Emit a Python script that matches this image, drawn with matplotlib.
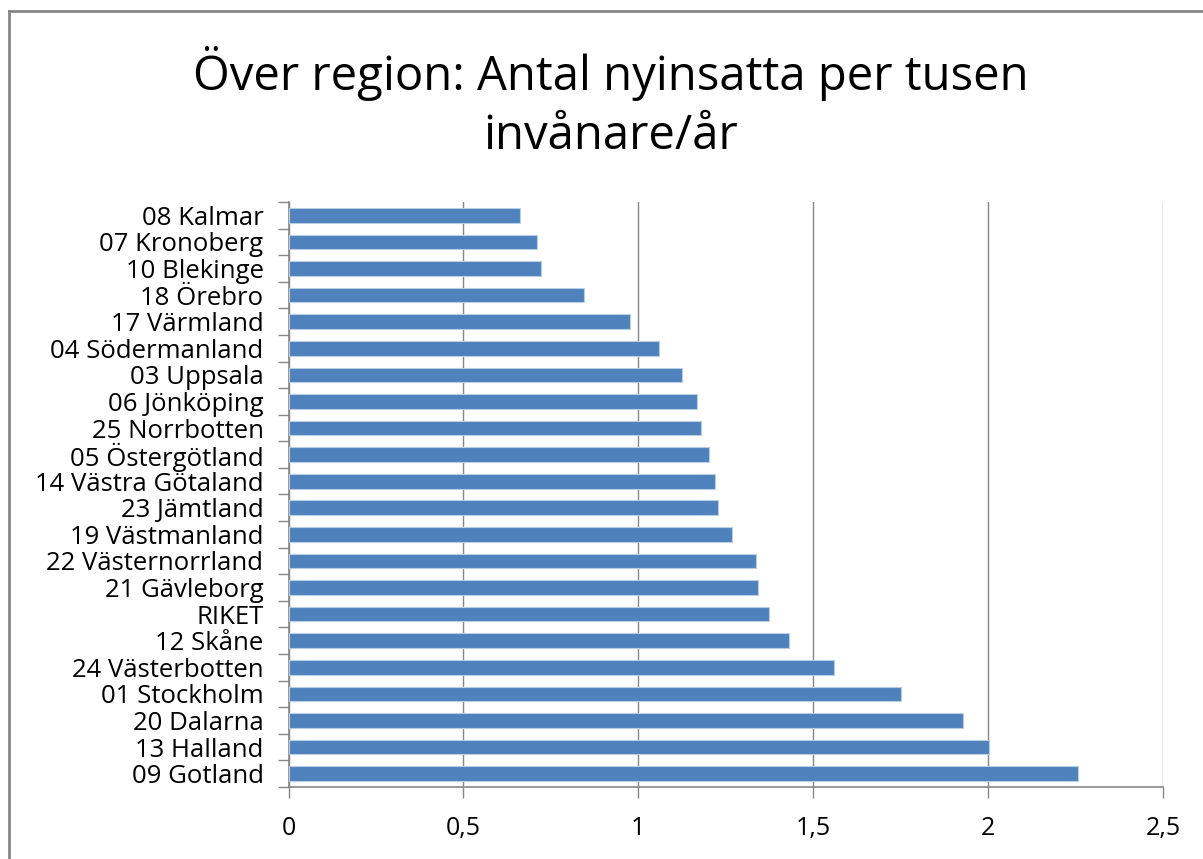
import matplotlib
matplotlib.use("Agg")
import matplotlib.pyplot as plt
from matplotlib.lines import Line2D
import numpy as np

plt.rcParams['font.family'] = ['Open Sans', 'DejaVu Sans']

regions = ["08 Kalmar", "07 Kronoberg", "10 Blekinge", "18 Örebro", "17 Värmland",
           "04 Södermanland", "03 Uppsala", "06 Jönköping", "25 Norrbotten",
           "05 Östergötland", "14 Västra Götaland", "23 Jämtland", "19 Västmanland",
           "22 Västernorrland", "21 Gävleborg", "RIKET", "12 Skåne", "24 Västerbotten",
           "01 Stockholm", "20 Dalarna", "13 Halland", "09 Gotland"]
values = [0.661, 0.711, 0.723, 0.845, 0.977, 1.059, 1.124, 1.169, 1.178, 1.202,
          1.219, 1.227, 1.269, 1.337, 1.342, 1.374, 1.432, 1.559, 1.751, 1.927,
          2.002, 2.258]
xticks = [0, 0.5, 1, 1.5, 2, 2.5]
xtick_labels = ["0", "0,5", "1", "1,5", "2", "2,5"]
title = "Över region: Antal nyinsatta per tusen\ninvånare/år"

W, H = 1203, 859
fig = plt.figure(figsize=(W / 100, H / 100), dpi=100)
ax = fig.add_axes([288.5 / W, (H - 787) / H, (1163 - 288.5) / W, (787 - 202) / H])

n = len(regions)
ypos = np.arange(n)
ax.barh(ypos, values, height=0.55, color="#4F81BD", edgecolor="#B9CDE5", linewidth=0.8, zorder=3)
ax.set_ylim(n - 0.5, -0.5)
ax.set_xlim(0, 2.5)

ax.set_yticks(ypos)
ax.set_yticklabels(regions, fontsize=18.5)
ax.set_yticks(np.arange(n + 1) - 0.5, minor=True)
ax.tick_params(axis='y', which='major', length=0, pad=18)
ax.tick_params(axis='y', which='minor', length=8, color="#868686", width=1)

ax.set_xticks(xticks)
ax.set_xticklabels(xtick_labels, fontsize=18)
ax.tick_params(axis='x', which='major', length=8, color="#868686", width=1, pad=13)

ax.grid(axis='x', color="#868686", linewidth=1, zorder=0)
for s in ['top', 'right']:
    ax.spines[s].set_visible(False)
for s in ['left', 'bottom']:
    ax.spines[s].set_color("#868686")
    ax.spines[s].set_linewidth(1.2)

fig.text(611 / W, 1 - 103 / H, title, ha='center', va='center', fontsize=34,
         linespacing=1.32)

# outer chart border (left and top visible)
fig.add_artist(Line2D([8.5 / W, 8.5 / W], [0, 1 - 11 / H], transform=fig.transFigure,
                      color="#868686", linewidth=2))
fig.add_artist(Line2D([8.5 / W, 1], [1 - 11 / H, 1 - 11 / H], transform=fig.transFigure,
                      color="#868686", linewidth=2))

fig.savefig("out.png", dpi=100)
